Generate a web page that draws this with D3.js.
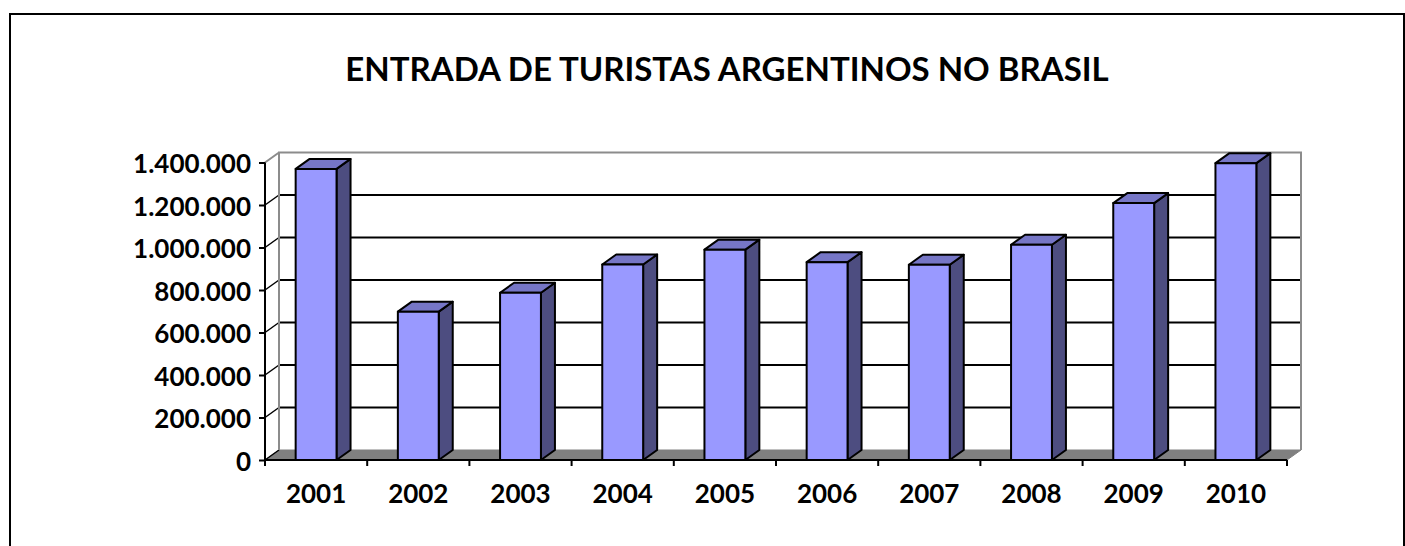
<!DOCTYPE html>
<html>
<head>
<meta charset="utf-8">
<script src="https://cdn.jsdelivr.net/npm/d3@7"></script>
<style>
  body { margin: 0; background: #fff; }
  text { font-family: Lato, "Open Sans", sans-serif; font-weight: bold; fill: #000; }
</style>
</head>
<body>
<script>
// values
const years = ["2001", "2002", "2003", "2004", "2005", "2006", "2007", "2008", "2009", "2010"];
const visitors = [1370000, 698000, 787000, 920000, 990000, 931000, 919000, 1013000, 1209000, 1397000];
const yTicks = [0, 200000, 400000, 600000, 800000, 1000000, 1200000, 1400000];
const title = "ENTRADA DE TURISTAS ARGENTINOS NO BRASIL";

const w = 1405, h = 546;
const plotLeft = 265, plotRight = 1287, plotBottom = 460, plotTop = 162.5;
const dx = 14, dy = -10; // depth of the 3d box

const svg = d3.select("body")
  .append("svg")
  .attr("width", w)
  .attr("height", h);

const ptBR = d3.formatLocale({ decimal: ",", thousands: ".", grouping: [3], currency: ["", ""] });
const fmt = ptBR.format(",d");

const xScale = d3.scaleBand()
  .domain(years)
  .range([plotLeft, plotRight])
  .paddingInner(0.6)
  .paddingOuter(0.3);

const yScale = d3.scaleLinear()
  .domain([0, 1400000])
  .range([plotBottom, plotTop]);

// outer frame
svg.append("rect")
  .attr("x", 10).attr("y", 14)
  .attr("width", 1394).attr("height", 560)
  .attr("fill", "none")
  .attr("stroke", "#000")
  .attr("stroke-width", 2);

svg.append("text")
  .attr("x", 727)
  .attr("y", 81)
  .attr("text-anchor", "middle")
  .style("font-size", "33px")
  .text(title);

// floor
svg.append("path")
  .attr("d", `M${plotLeft},${plotBottom} L${plotRight},${plotBottom} L${plotRight + dx},${plotBottom + dy} L${plotLeft + dx},${plotBottom + dy} Z`)
  .attr("fill", "#808080")
  .attr("stroke", "#808080")
  .attr("stroke-width", 1);

// gridlines on back wall + side wall
const grid = svg.append("g");
grid.selectAll("line.back")
  .data(yTicks.slice(1, -1))
  .enter()
  .append("line")
  .attr("x1", plotLeft + dx).attr("x2", plotRight + dx)
  .attr("y1", d => yScale(d) + dy).attr("y2", d => yScale(d) + dy)
  .attr("stroke", "#000")
  .attr("stroke-width", 2);

grid.selectAll("line.side")
  .data(yTicks.slice(0, -1))
  .enter()
  .append("line")
  .attr("x1", plotLeft).attr("x2", plotLeft + dx)
  .attr("y1", d => yScale(d)).attr("y2", d => yScale(d) + dy)
  .attr("stroke", "#000")
  .attr("stroke-width", 1.5);

// wall edges
const maxY = yScale(1400000);
svg.append("path")
  .attr("d", `M${plotLeft + dx},${plotBottom + dy} L${plotLeft + dx},${maxY + dy} L${plotRight + dx},${maxY + dy} L${plotRight + dx},${plotBottom + dy}
              M${plotLeft},${maxY} L${plotLeft + dx},${maxY + dy}`)
  .attr("fill", "none")
  .attr("stroke", "#8c8c8c")
  .attr("stroke-width", 2);

// bars
const bw = xScale.bandwidth();
const bars = svg.append("g")
  .selectAll("g")
  .data(years.map((y, i) => ({ year: y, value: visitors[i] })))
  .enter()
  .append("g")
  .attr("stroke", "#000")
  .attr("stroke-width", 2)
  .attr("stroke-linejoin", "round");

bars.append("path")
  .attr("fill", "#4d4d80")
  .attr("d", d => {
    const x = xScale(d.year) + bw, yt = yScale(d.value);
    return `M${x},${plotBottom} L${x + dx},${plotBottom + dy} L${x + dx},${yt + dy} L${x},${yt} Z`;
  });

bars.append("path")
  .attr("fill", "#7676c6")
  .attr("d", d => {
    const x = xScale(d.year), yt = yScale(d.value);
    return `M${x},${yt} L${x + dx},${yt + dy} L${x + bw + dx},${yt + dy} L${x + bw},${yt} Z`;
  });

bars.append("rect")
  .attr("fill", "#9999ff")
  .attr("x", d => xScale(d.year))
  .attr("y", d => yScale(d.value))
  .attr("width", bw)
  .attr("height", d => plotBottom - yScale(d.value));

// y axis
const yAxis = d3.axisLeft(yScale)
  .tickValues(yTicks)
  .tickSize(6)
  .tickPadding(8)
  .tickFormat(fmt);

svg.append("g")
  .attr("transform", `translate(${plotLeft}, 0)`)
  .call(yAxis)
  .call(g => g.select(".domain").attr("stroke-width", 2).attr("d", `M0,${maxY}V${plotBottom}`))
  .call(g => g.selectAll(".tick line").attr("stroke-width", 2))
  .call(g => g.selectAll("text")
    .attr("dy", "0.4em")
    .style("font-size", "26px")
    .style("font-family", "Lato, sans-serif")
    .attr("fill", "#000"));

// x axis: ticks between categories, labels at centres
const xb = svg.append("g").attr("transform", `translate(0, ${plotBottom})`);
xb.append("line")
  .attr("x1", plotLeft).attr("x2", plotRight)
  .attr("stroke", "#000")
  .attr("stroke-width", 2);
xb.selectAll("line.tick")
  .data(d3.range(years.length + 1))
  .enter()
  .append("line")
  .attr("x1", i => plotLeft + i * xScale.step())
  .attr("x2", i => plotLeft + i * xScale.step())
  .attr("y1", 0).attr("y2", 6)
  .attr("stroke", "#000")
  .attr("stroke-width", 2);
xb.selectAll("text")
  .data(years)
  .enter()
  .append("text")
  .attr("x", d => xScale(d) + bw / 2)
  .attr("y", 43)
  .attr("text-anchor", "middle")
  .style("font-size", "26px")
  .text(d => d);
</script>
</body>
</html>
